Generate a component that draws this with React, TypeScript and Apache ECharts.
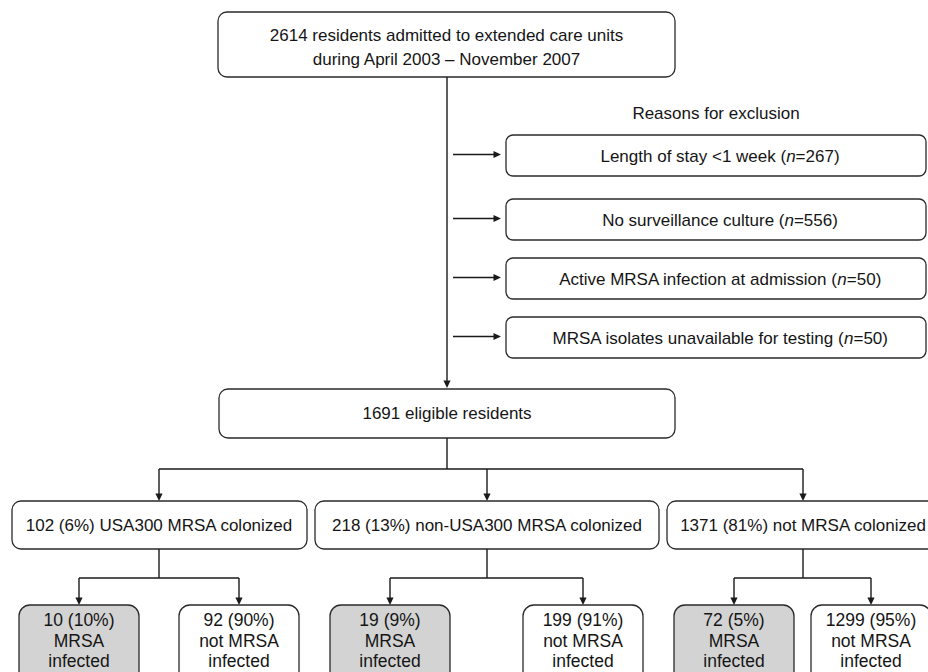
import React, { useEffect, useRef } from "react";
import * as echarts from "echarts";

// ---------- data ----------
const totalAdmitted = 2614;
const topLines = ["residents admitted to extended care units", "during April 2003 – November 2007"];
const exclusionTitle = "Reasons for exclusion";
const exclusionReasons = [
  "Length of stay <1 week",
  "No surveillance culture",
  "Active MRSA infection at admission",
  "MRSA isolates unavailable for testing",
];
const exclusionCounts = [267, 556, 50, 50];
const eligibleCount = 1691;
const eligibleLabel = "eligible residents";
const groupLabels = ["USA300 MRSA colonized", "non-USA300 MRSA colonized", "not MRSA colonized"];
const groupCounts = [102, 218, 1371];
const groupPercents = [6, 13, 81];
const infectedCounts = [10, 19, 72];
const infectedPercents = [10, 9, 5];
const notInfectedCounts = [92, 199, 1299];
const notInfectedPercents = [90, 91, 95];

// ---------- layout ----------
const FONT = '"Liberation Sans", Arial, Helvetica, sans-serif';
const TEXT = "#151515";
const LINE = "#1a1a1a";
const STROKE = "#2a2a2a";
const GREY = "#d3d3d3";
const SPINE_X = 447;
const TOP_BOX = { x: 218, y: 12, w: 457, h: 65 };
const EXCL_X = 506;
const EXCL_W = 420;
const EXCL_TOPS = [135, 199, 258, 317];
const EXCL_H = 41;
const ELIG_BOX = { x: 219, y: 389, w: 456, h: 49 };
const SPLIT_Y = 469;
const G_BOXES = [
  { x: 12, w: 295, cx: 159 },
  { x: 315, w: 344, cx: 487 },
  { x: 667, w: 272, cx: 803 },
];
const G_Y = 501;
const G_H = 48;
const SUB_SPLIT_Y = 578;
const CHILD_X = [
  [79, 239],
  [390, 583],
  [734, 871],
];
const C_Y = 605;
const C_W = 120;
const C_H = 84;

function line(x1: number, y1: number, x2: number, y2: number) {
  return { type: "line", shape: { x1, y1, x2, y2 }, style: { stroke: LINE, lineWidth: 1.4 }, silent: true };
}
function arrowDown(x: number, y1: number, tip: number) {
  return [
    line(x, y1, x, tip - 6),
    { type: "polygon", shape: { points: [[x - 3.6, tip - 7.5], [x + 3.6, tip - 7.5], [x, tip]] }, style: { fill: LINE } },
  ];
}
function arrowRight(x1: number, tip: number, y: number) {
  return [
    line(x1, y, tip - 6, y),
    { type: "polygon", shape: { points: [[tip - 7.5, y - 3.6], [tip - 7.5, y + 3.6], [tip, y]] }, style: { fill: LINE } },
  ];
}
function box(x: number, y: number, w: number, h: number, r: number, fill = "#fff") {
  return { type: "rect", shape: { x, y, width: w, height: h, r }, style: { fill, stroke: STROKE, lineWidth: 1.3 } };
}
function text(x: number, y: number, t: string, lineHeight = 20, extra: any = {}) {
  return {
    type: "text",
    x,
    y,
    style: {
      text: t,
      fill: TEXT,
      fontSize: 17,
      fontFamily: FONT,
      align: "center",
      verticalAlign: "middle",
      textAlign: "center",
      textVerticalAlign: "middle",
      lineHeight,
      ...extra,
    },
  };
}

function buildGraphic() {
  const els: any[] = [];
  // top box
  els.push(box(TOP_BOX.x, TOP_BOX.y, TOP_BOX.w, TOP_BOX.h, 9));
  els.push(text(TOP_BOX.x + TOP_BOX.w / 2, 47.5, `${totalAdmitted} ${topLines[0]}\n${topLines[1]}`, 24));
  // spine
  els.push(...arrowDown(SPINE_X, TOP_BOX.y + TOP_BOX.h, ELIG_BOX.y - 1));
  // exclusions
  els.push(text(716, 113, exclusionTitle));
  exclusionReasons.forEach((r, i) => {
    const y = EXCL_TOPS[i];
    els.push(box(EXCL_X, y, EXCL_W, EXCL_H, 7));
    els.push(...arrowRight(SPINE_X + 6, EXCL_X - 5, y + EXCL_H / 2 - 1));
    els.push(
      text(720, y + EXCL_H / 2 + 0.5, `${r} ({i|n}=${exclusionCounts[i]})`, 20, {
        rich: { i: { fontStyle: "italic", fontSize: 17, fontFamily: FONT, fill: TEXT } },
      })
    );
  });
  // eligible
  els.push(box(ELIG_BOX.x, ELIG_BOX.y, ELIG_BOX.w, ELIG_BOX.h, 9));
  els.push(text(SPINE_X, ELIG_BOX.y + 24, `${eligibleCount} ${eligibleLabel}`));
  els.push(line(SPINE_X, ELIG_BOX.y + ELIG_BOX.h, SPINE_X, SPLIT_Y));
  els.push(line(G_BOXES[0].cx, SPLIT_Y, G_BOXES[2].cx, SPLIT_Y));
  G_BOXES.forEach((g, i) => {
    els.push(...arrowDown(g.cx, SPLIT_Y, G_Y));
    els.push(box(g.x, G_Y, g.w, G_H, 9));
    els.push(text(g.cx, G_Y + 24, `${groupCounts[i]} (${groupPercents[i]}%) ${groupLabels[i]}`));
    // children
    const [a, b] = CHILD_X[i];
    els.push(line(g.cx, G_Y + G_H, g.cx, SUB_SPLIT_Y));
    els.push(line(a, SUB_SPLIT_Y, b, SUB_SPLIT_Y));
    els.push(...arrowDown(a, SUB_SPLIT_Y, C_Y));
    els.push(...arrowDown(b, SUB_SPLIT_Y, C_Y));
    els.push(box(a - C_W / 2, C_Y, C_W, C_H, 11, GREY));
    els.push(box(b - C_W / 2, C_Y, C_W, C_H, 11));
    els.push(text(a, 640.5, `${infectedCounts[i]} (${infectedPercents[i]}%)\nMRSA\ninfected`, 20.5, { fontSize: 17.5 }));
    els.push(text(b, 640.5, `${notInfectedCounts[i]} (${notInfectedPercents[i]}%)\nnot MRSA\ninfected`, 20.5, { fontSize: 17.5 }));
  });
  return els;
}

export default function App() {
  const ref = useRef<HTMLDivElement>(null);
  useEffect(() => {
    document.body.style.margin = "0";
    if (!ref.current) return;
    const chart = echarts.init(ref.current, null, { renderer: "svg" });
    chart.setOption({
      animation: false,
      backgroundColor: "#fff",
      graphic: { elements: buildGraphic() },
    });
    return () => chart.dispose();
  }, []);
  return <div ref={ref} style={{ width: 928, height: 672 }} />;
}
